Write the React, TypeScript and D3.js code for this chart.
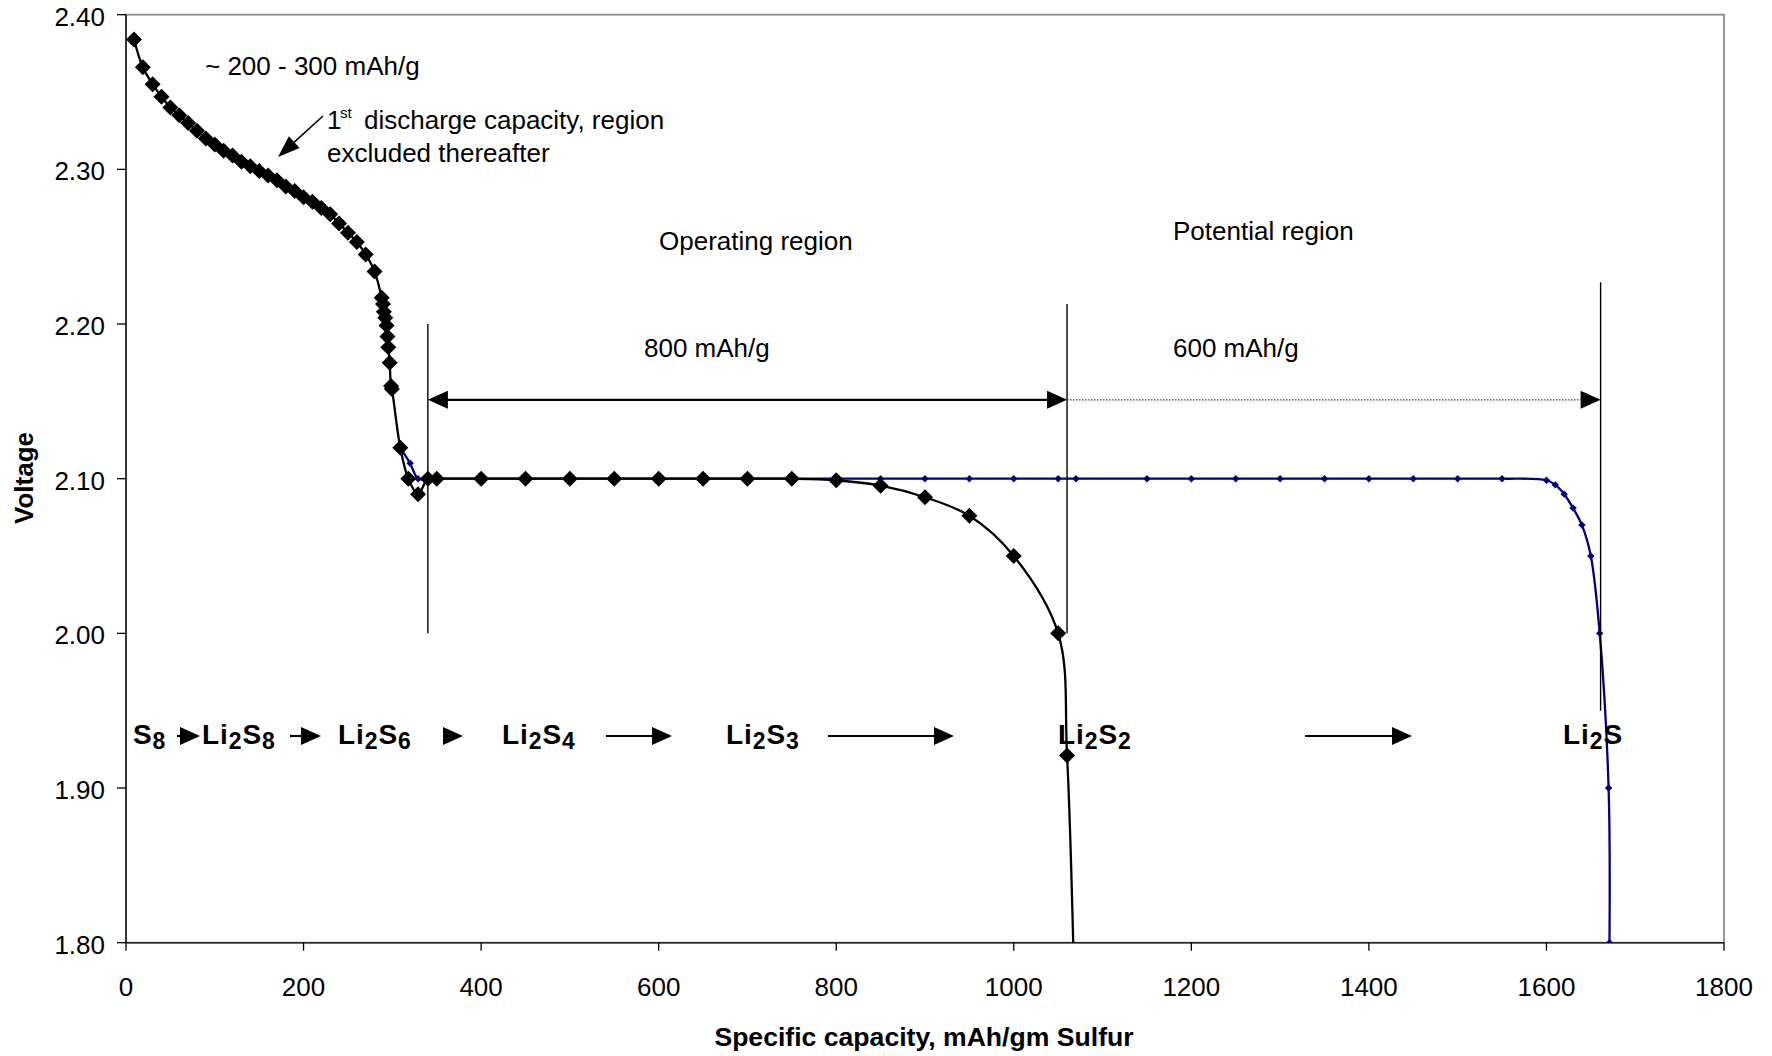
import React from 'react';
import * as d3 from 'd3';

const W = 1772;
const H = 1056;

// Axis ticks
const xTicks = [0, 200, 400, 600, 800, 1000, 1200, 1400, 1600, 1800];
const yTicks = [1.8, 1.9, 2.0, 2.1, 2.2, 2.3, 2.4];

// Black series: first discharge (diamond markers)
const blackX = [9, 19, 30, 40, 50, 60, 70, 80, 90, 100, 110, 120, 130, 140, 150, 160, 170, 180, 190, 200,
  210, 220, 230, 240, 250, 260, 270, 280, 288, 289.5, 290.5, 292, 293.5, 294.5, 295.5, 297, 298.5, 299.5,
  309, 318, 329, 340, 350, 400, 450, 500, 550, 600, 650, 700, 750, 800, 850, 900, 950, 1000, 1050, 1060, 1069];
const blackY = [2.384, 2.366, 2.355, 2.347, 2.340, 2.335, 2.330, 2.325, 2.320, 2.316, 2.312, 2.309, 2.305, 2.302, 2.299, 2.296, 2.293, 2.289, 2.286, 2.282,
  2.279, 2.275, 2.271, 2.265, 2.259, 2.253, 2.245, 2.234, 2.217, 2.213, 2.208, 2.204, 2.199, 2.192, 2.185, 2.175, 2.160, 2.158,
  2.120, 2.100, 2.090, 2.100, 2.100, 2.100, 2.100, 2.100, 2.100, 2.100, 2.100, 2.100, 2.100, 2.099, 2.0955, 2.088, 2.076, 2.050, 2.000, 1.921, 1.75];

// Blue series: potential full capacity (small markers)
const blueX = [309, 320, 329, 340, 350, 400, 450, 500, 550, 600, 650, 700, 750, 800, 850, 900, 950, 1000, 1050, 1070,
  1150, 1200, 1250, 1300, 1350, 1400, 1450, 1500, 1550, 1600, 1610, 1620, 1630, 1640, 1650, 1660, 1670, 1671];
const blueY = [2.120, 2.110, 2.100, 2.100, 2.100, 2.100, 2.100, 2.100, 2.100, 2.100, 2.100, 2.100, 2.100, 2.100, 2.100, 2.100, 2.100, 2.100, 2.100, 2.100,
  2.100, 2.100, 2.100, 2.100, 2.100, 2.100, 2.100, 2.100, 2.100, 2.099, 2.096, 2.090, 2.081, 2.070, 2.050, 2.000, 1.900, 1.800];

// Region boundaries (capacity values)
const regionLines = [
  { x: 340, y0: 2.0, y1: 2.20 },
  { x: 1060, y0: 2.0, y1: 2.213 },
  { x: 1661, y0: 1.95, y1: 2.227 },
];
const arrowVoltage = 2.151;

// Reaction species labels
const species = [
  { parts: [['S', 0], ['8', 1]], x: 133 },
  { parts: [['Li', 0], ['2', 1], ['S', 0], ['8', 1]], x: 202 },
  { parts: [['Li', 0], ['2', 1], ['S', 0], ['6', 1]], x: 338 },
  { parts: [['Li', 0], ['2', 1], ['S', 0], ['4', 1]], x: 502 },
  { parts: [['Li', 0], ['2', 1], ['S', 0], ['3', 1]], x: 726 },
  { parts: [['Li', 0], ['2', 1], ['S', 0], ['2', 1]], x: 1058 },
  { parts: [['Li', 0], ['2', 1], ['S', 0]], x: 1563 },
];
const speciesArrows = [
  { x1: 177, x2: 200 },
  { x1: 290, x2: 321 },
  { x1: 442, x2: 463 },
  { x1: 606, x2: 672 },
  { x1: 828, x2: 954 },
  { x1: 1305, x2: 1412 },
];

const FONT = '"Liberation Sans", Arial, Helvetica, sans-serif';

const diamond = (r: number) => `M0,${-r}L${r},0L0,${r}L${-r},0Z`;

export default function App() {
  const left = 126, right = 1724, top = 14.7, bottom = 942.7;
  const x = d3.scaleLinear().domain([0, 1800]).range([left, right]);
  const y = d3.scaleLinear().domain([1.8, 2.4]).range([bottom, top]);

  const line = d3.line<[number, number]>()
    .x(d => x(d[0]))
    .y(d => y(d[1]))
    .curve(d3.curveCatmullRom.alpha(0.5));

  const black: [number, number][] = blackX.map((v, i) => [v, blackY[i]]);
  const blue: [number, number][] = blueX.map((v, i) => [v, blueY[i]]);

  const chemY = 744;
  const arrowY = 736;
  const ay = y(arrowVoltage);
  const xl = x(regionLines[0].x);
  const xm = x(regionLines[1].x);
  const xr = x(regionLines[2].x);

  const headR = (tipX: number, cy: number, len: number, h: number) =>
    `M${tipX},${cy}L${tipX - len},${cy - h / 2}L${tipX - len},${cy + h / 2}Z`;
  const headL = (tipX: number, cy: number, len: number, h: number) =>
    `M${tipX},${cy}L${tipX + len},${cy - h / 2}L${tipX + len},${cy + h / 2}Z`;

  // annotation arrow
  const a0 = [323, 116], a1 = [278, 157];
  const ang = Math.atan2(a1[1] - a0[1], a1[0] - a0[0]);
  const hl = 22, hw = 16;
  const bx = a1[0] - hl * Math.cos(ang), by = a1[1] - hl * Math.sin(ang);
  const px = -Math.sin(ang) * hw / 2, py = Math.cos(ang) * hw / 2;

  return (
    <svg width={W} height={H} style={{ position: 'absolute', left: 0, top: 0, background: '#fff' }} fontFamily={FONT}>
      <defs>
        <clipPath id="plotClip">
          <rect x={left} y={top} width={right - left} height={bottom - top} />
        </clipPath>
      </defs>
      <rect x={0} y={0} width={W} height={H} fill="#fff" />
      {/* plot border */}
      <rect x={left} y={top} width={right - left} height={bottom - top} fill="none" stroke="#8c8c8c" strokeWidth={1.8} />
      {/* axes */}
      <line x1={left} x2={left} y1={top} y2={bottom} stroke="#000" strokeWidth={1.3} />
      <line x1={left} x2={right} y1={bottom} y2={bottom} stroke="#222" strokeWidth={1.6} />
      {yTicks.map(t => (
        <g key={'y' + t}>
          <line x1={left - 9} x2={left} y1={y(t)} y2={y(t)} stroke="#000" strokeWidth={1.3} />
          <text x={105} y={y(t)} dy="0.42em" textAnchor="end" fontSize={26} fill="#000">{t.toFixed(2)}</text>
        </g>
      ))}
      {xTicks.map(t => (
        <g key={'x' + t}>
          <line x1={x(t)} x2={x(t)} y1={bottom} y2={bottom + 8} stroke="#000" strokeWidth={1.3} />
          <text x={x(t)} y={996} textAnchor="middle" fontSize={26} fill="#000">{t}</text>
        </g>
      ))}
      <text x={924} y={1046} textAnchor="middle" fontSize={26.6} fontWeight="bold">Specific capacity, mAh/gm Sulfur</text>
      <text transform="translate(33,478) rotate(-90)" textAnchor="middle" fontSize={26} fontWeight="bold">Voltage</text>

      {/* series */}
      <g clipPath="url(#plotClip)">
        <path d={line(blue) || ''} fill="none" stroke="#000080" strokeWidth={2.3} />
        {blue.map((d, i) => (
          <path key={'b' + i} d={diamond(3.7)} transform={`translate(${x(d[0])},${y(d[1])})`} fill="#000080" />
        ))}
        <path d={line(black) || ''} fill="none" stroke="#000" strokeWidth={2.3} />
        {black.map((d, i) => (
          <path key={'k' + i} d={diamond(8)} transform={`translate(${x(d[0])},${y(d[1])})`} fill="#000" />
        ))}
      </g>

      {/* region lines */}
      {regionLines.map((r, i) => (
        <line key={'r' + i} x1={x(r.x)} x2={x(r.x)} y1={y(r.y1)} y2={y(r.y0)} stroke="#000" strokeWidth={1.4} />
      ))}
      <line x1={xl + 18} x2={xm - 18} y1={ay} y2={ay} stroke="#000" strokeWidth={2.2} />
      <path d={headL(xl, ay, 20, 18)} fill="#000" />
      <path d={headR(xm, ay, 20, 18)} fill="#000" />
      <line x1={xm} x2={xr - 18} y1={ay} y2={ay} stroke="#444" strokeWidth={1.2} strokeDasharray="1.5,1.5" />
      <path d={headR(xr, ay, 20, 18)} fill="#000" />

      {/* annotations */}
      <text x={205} y={75} fontSize={26}>~ 200 - 300 mAh/g</text>
      <line x1={a0[0]} y1={a0[1]} x2={bx} y2={by} stroke="#000" strokeWidth={1.6} />
      <path d={`M${a1[0]},${a1[1]}L${bx + px},${by + py}L${bx - px},${by - py}Z`} fill="#000" />
      <text x={327} y={129} fontSize={26}>
        1<tspan x={340} dy={-11} fontSize={15}>st</tspan><tspan x={364} dy={11} fontSize={26}>discharge capacity, region</tspan>
      </text>
      <text x={327} y={162} fontSize={26}>excluded thereafter</text>
      <text x={659} y={250} fontSize={26}>Operating region</text>
      <text x={1173} y={240} fontSize={26}>Potential region</text>
      <text x={644} y={357} fontSize={26}>800 mAh/g</text>
      <text x={1173} y={357} fontSize={26}>600 mAh/g</text>

      {/* species */}
      {species.map((s, i) => (
        <text key={'s' + i} x={s.x} y={chemY} fontSize={28} fontWeight="bold" letterSpacing={0.9}>
          {s.parts.map((p, j) => {
            const isSub = p[1] === 1;
            const prevSub = j > 0 && s.parts[j - 1][1] === 1;
            const dy = isSub ? 5 : (prevSub ? -5 : 0);
            return (
              <tspan key={j} fontSize={isSub ? 23 : 28} dy={dy}>{p[0] as string}</tspan>
            );
          })}
        </text>
      ))}
      {speciesArrows.map((a, i) => (
        <g key={'a' + i}>
          {a.x2 - a.x1 > 22 && (
            <line x1={a.x1} x2={a.x2 - 18} y1={arrowY} y2={arrowY} stroke="#000" strokeWidth={2.2} />
          )}
          <path d={headR(a.x2, arrowY, Math.min(20, a.x2 - a.x1), 18)} fill="#000" />
        </g>
      ))}
    </svg>
  );
}
